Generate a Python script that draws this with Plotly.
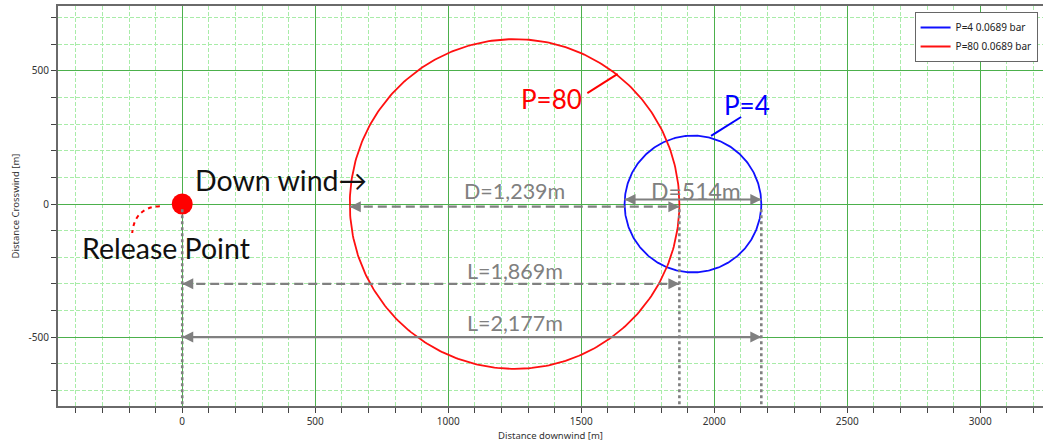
import numpy as np
import plotly.graph_objects as go

# Overpressure zones: pressure level, threshold, diameter D and downwind reach L (m)
pressures = [4, 80]
threshold_bar = [0.0689, 0.0689]
diameters = [514, 1239]
distances = [2177, 1869]
zone_colors = ["#1010ff", "#ff1010"]

release_point = [0, 0]

x_ticks = [0, 500, 1000, 1500, 2000, 2500, 3000]
x_ticktext = ["0", "500", "1000", "1500", "2000", "2500", "3000"]
y_ticks = [-500, 0, 500]
y_ticktext = ["-500", "0", "500"]

GRAY = "#808080"
TEXT_FONT = "Lato"

fig = go.Figure()

theta = np.linspace(0, 2 * np.pi, 361)
for p, thr, d, L, c in zip(pressures, threshold_bar, diameters, distances, zone_colors):
    r = d / 2
    cx = L - r
    fig.add_trace(go.Scatter(
        x=cx + r * np.cos(theta), y=r * np.sin(theta),
        mode="lines", line=dict(color=c, width=1.8),
        name=f"P={p} {thr} bar", hoverinfo="skip",
    ))

# release point marker
fig.add_trace(go.Scatter(
    x=[release_point[0]], y=[release_point[1]], mode="markers",
    marker=dict(color="#ff0000", size=21), showlegend=False, hoverinfo="skip",
))

shapes = []
annotations = []


def arrow_head(x, y, direction):
    annotations.append(dict(
        x=x, y=y, xref="x", yref="y", ax=-12 * direction, ay=0,
        text="", showarrow=True, arrowhead=2, arrowsize=1.1, arrowwidth=2,
        arrowcolor=GRAY, standoff=0,
    ))


def dimension(x0, x1, y, dash):
    shapes.append(dict(type="line", xref="x", yref="y", x0=x0, x1=x1, y0=y, y1=y,
                       line=dict(color=GRAY, width=2.2, dash=dash), layer="above"))
    arrow_head(x0, y, -1)
    arrow_head(x1, y, 1)


def label(x, y, text, color=GRAY, size=21.5):
    annotations.append(dict(x=x, y=y, xref="x", yref="y", text=text, showarrow=False,
                            font=dict(family=TEXT_FONT, size=size, color=color)))


d_small, d_big = diameters
l_small, l_big = distances

# diameter dimensions
dimension(l_big - d_big, l_big, -10, "9px,5px")
dimension(l_small - d_small, l_small, 17, "solid")
# downwind reach dimensions
dimension(release_point[0], l_big, -300, "9px,5px")
dimension(release_point[0], l_small, -500, "solid")

label(1250, 50, f"D={d_big:,}m")
label(l_small - d_small / 2 + 10, 50, f"D={d_small:,}m", size=23)
label(1250, -252, f"L={l_big:,}m")
label(1250, -446, f"L={l_small:,}m")

# vertical dotted reference lines down to the axis
for xv in [release_point[0], l_big, l_small]:
    shapes.append(dict(type="line", xref="x", yref="y", x0=xv, x1=xv, y0=-20, y1=-760,
                       line=dict(color=GRAY, width=2.6, dash="dot"), layer="above"))

# zone labels with leader lines
label(1390, 395, f"P={pressures[1]}", color="#ff0000", size=26)
shapes.append(dict(type="line", xref="x", yref="y", x0=1523, y0=417, x1=1637, y1=489,
                   line=dict(color="#ff0000", width=2), layer="above"))
label(2125, 372, f"P={pressures[0]}", color="#0000ff", size=26)
shapes.append(dict(type="line", xref="x", yref="y", x0=2101, y0=327, x1=1988, y1=256,
                   line=dict(color="#0000ff", width=2), layer="above"))

# release point callout
label(-60, -165, "Release Point", color="#111111", size=28.5)
shapes.append(dict(type="path", xref="x", yref="y",
                   path="M -84,-8 Q -178,-12 -188,-109",
                   line=dict(color="#ff0000", width=2, dash="4px,4px"), layer="above"))
label(372, 90, "Down wind\u2192", color="#111111", size=28.5)

fig.update_layout(
    width=1043, height=445,
    margin=dict(l=58, r=0, t=6, b=39),
    paper_bgcolor="white", plot_bgcolor="white",
    shapes=shapes, annotations=annotations,
    font=dict(family="Noto Sans", size=10, color="#333333"),
    legend=dict(
        x=0.9945, y=0.985, xanchor="right", yanchor="top",
        bgcolor="white", bordercolor="#666666", borderwidth=1,
        font=dict(family="Noto Sans", size=10, color="#222222"),
        itemwidth=30, tracegroupgap=0,
    ),
)

fig.update_xaxes(
    range=[-467, 3236], tickmode="array", tickvals=x_ticks, ticktext=x_ticktext,
    showgrid=True, gridcolor="#4cb04c", gridwidth=1, zeroline=False,
    showline=True, linecolor="#6a6a6a", linewidth=2, mirror=True,
    ticks="outside", ticklen=5, tickcolor="#444444",
    tickfont=dict(size=10, color="#333333"),
    minor=dict(tickmode="linear", tick0=0, dtick=100, showgrid=True,
               gridcolor="#a8eca8", griddash="4px,2px", gridwidth=1,
               ticks="outside", ticklen=5, tickcolor="#444444"),
    title=dict(text="Distance downwind [m]", font=dict(size=9.5, color="#333333"), standoff=5),
)
fig.update_yaxes(
    range=[-759, 744], tickmode="array", tickvals=y_ticks, ticktext=y_ticktext,
    showgrid=True, gridcolor="#4cb04c", gridwidth=1, zeroline=False,
    showline=True, linecolor="#6a6a6a", linewidth=2,
    ticks="outside", ticklen=5, tickcolor="#444444",
    tickfont=dict(size=10, color="#333333"),
    minor=dict(tickmode="linear", tick0=0, dtick=100, showgrid=True,
               gridcolor="#a8eca8", griddash="4px,2px", gridwidth=1,
               ticks="outside", ticklen=5, tickcolor="#444444"),
    title=dict(text="Distance Crosswind [m]", font=dict(size=9.5, color="#333333"), standoff=7),
)

fig.write_html("out.html")
